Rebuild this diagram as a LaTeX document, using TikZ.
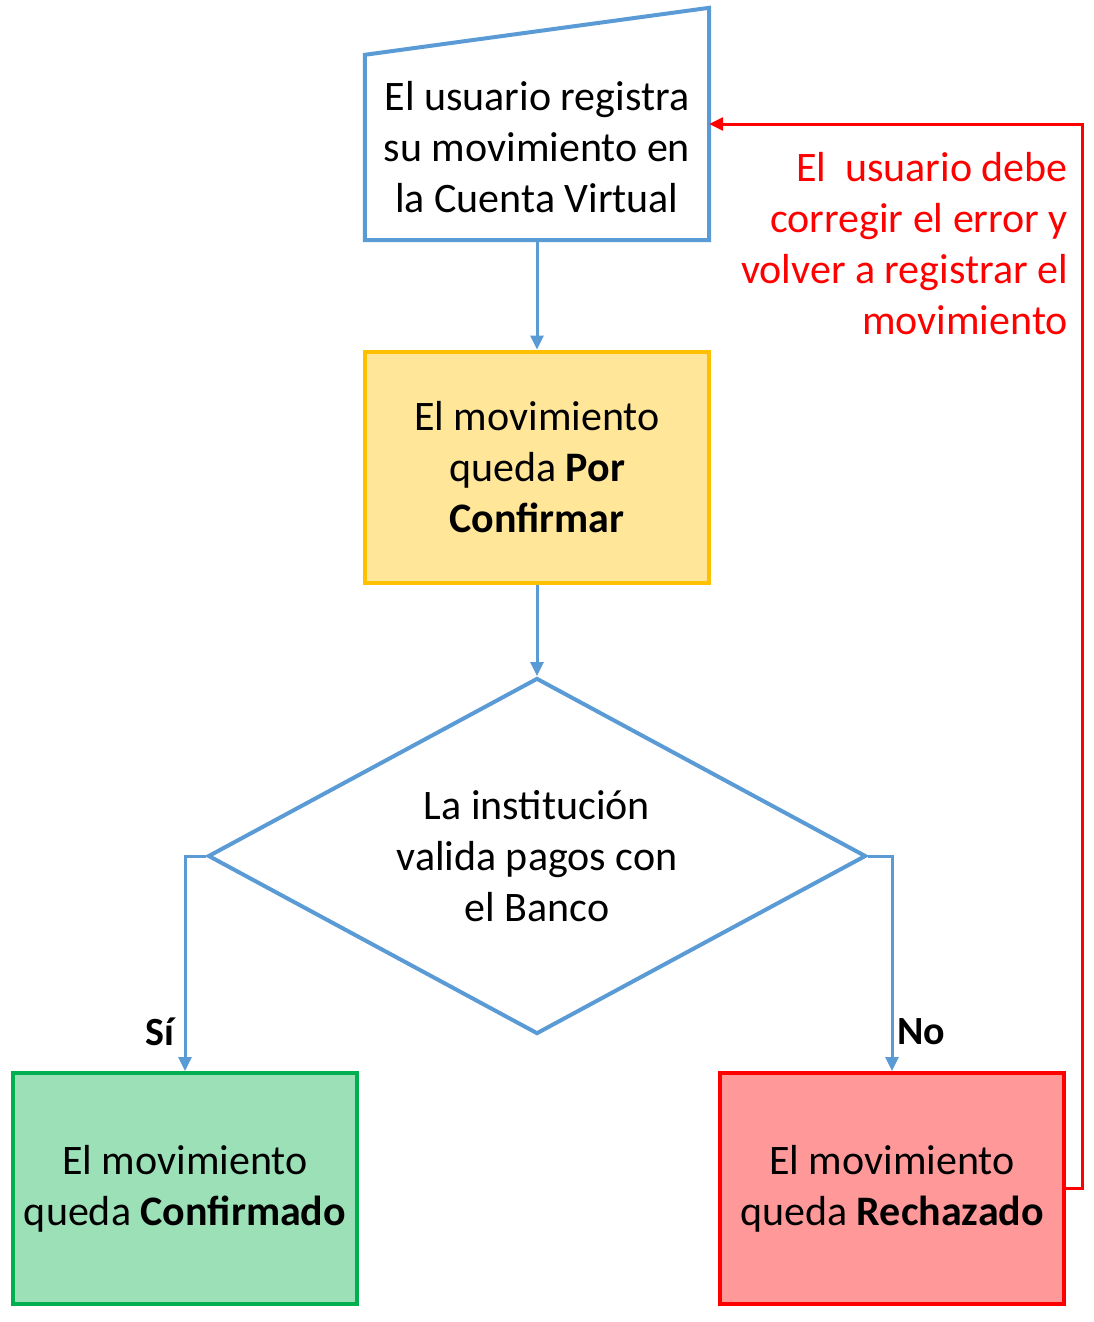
\documentclass[tikz,border=0pt]{standalone}
\usepackage{fontspec}
\setmainfont{Carlito}
\usetikzlibrary{shapes.geometric, arrows.meta}

\definecolor{flowblue}{HTML}{5B9BD5}
\definecolor{gold}{HTML}{FFC000}
\definecolor{goldfill}{HTML}{FFE699}
\definecolor{okgreen}{HTML}{00B050}
\definecolor{okfill}{HTML}{9BE0B7}
\definecolor{badred}{HTML}{FF0000}
\definecolor{badfill}{HTML}{FF9999}

\tikzset{
  txt/.style={font=\fontsize{42}{51}\selectfont, align=center, inner sep=0pt},
  stepbox/.style={txt, rectangle, line width=4pt, minimum width=344pt, minimum height=231pt},
  flow/.style={flowblue, line width=3pt, -{Triangle[width=13pt,length=14pt]}},
  back/.style={badred, line width=3pt, -{Triangle[width=13pt,length=14pt]}}
}

\begin{document}
\begin{tikzpicture}[x=1pt, y=-1pt]
\useasboundingbox (0,0) rectangle (1094,1322);

% Top box (manual input)
\node[txt, minimum width=344pt, minimum height=185pt] (reg) at (537,147.5)
  {El usuario registra\\su movimiento en\\la Cuenta Virtual};
\draw[flowblue, line width=4pt, line join=miter]
  (reg.south west) -- (reg.north west) -- ([yshift=47pt]reg.north east)
  -- (reg.south east) -- cycle;

% Pending
\node[stepbox, draw=gold, fill=goldfill] (pend) at (537,467)
  {El movimiento\\queda \textbf{Por}\\\textbf{Confirmar}};

% Decision
\node[txt, diamond, aspect=1.85, draw=flowblue, line width=4pt,
  minimum width=658pt, minimum height=356pt] (bank) at (537,856)
  {La institución\\valida pagos con\\el Banco};

% Results
\node[stepbox, draw=okgreen, fill=okfill] (ok) at (185,1188.5)
  {El movimiento\\queda \textbf{Confirmado}};
\node[stepbox, draw=badred, fill=badfill] (bad) at (892,1188.5)
  {El movimiento\\queda \textbf{Rechazado}};

% Arrows
\draw[flow] (reg.south) -- (pend.north);
\draw[flow] (pend.south) -- (bank.north);
\draw[flow] (bank.west) -| (ok.north);
\draw[flow] (bank.east) -| (bad.north);

% Branch labels
\node[txt, font=\fontsize{40}{48}\selectfont\bfseries] (yes) at (160,1032) {Sí};
\node[txt, font=\fontsize{40}{48}\selectfont\bfseries] (no) at (921,1032) {No};

% Loop back
\coordinate (turn) at (1082,124);
\draw[back] (bad.east) -- (bad.east -| turn) -- (turn) -- (reg.east |- turn);
\node[txt, align=right, text=badred, anchor=east] (fix) at (1068,243.5)
  {El\ \ usuario debe\\corregir el error y\\volver a registrar el\\movimiento};

\end{tikzpicture}
\end{document}
